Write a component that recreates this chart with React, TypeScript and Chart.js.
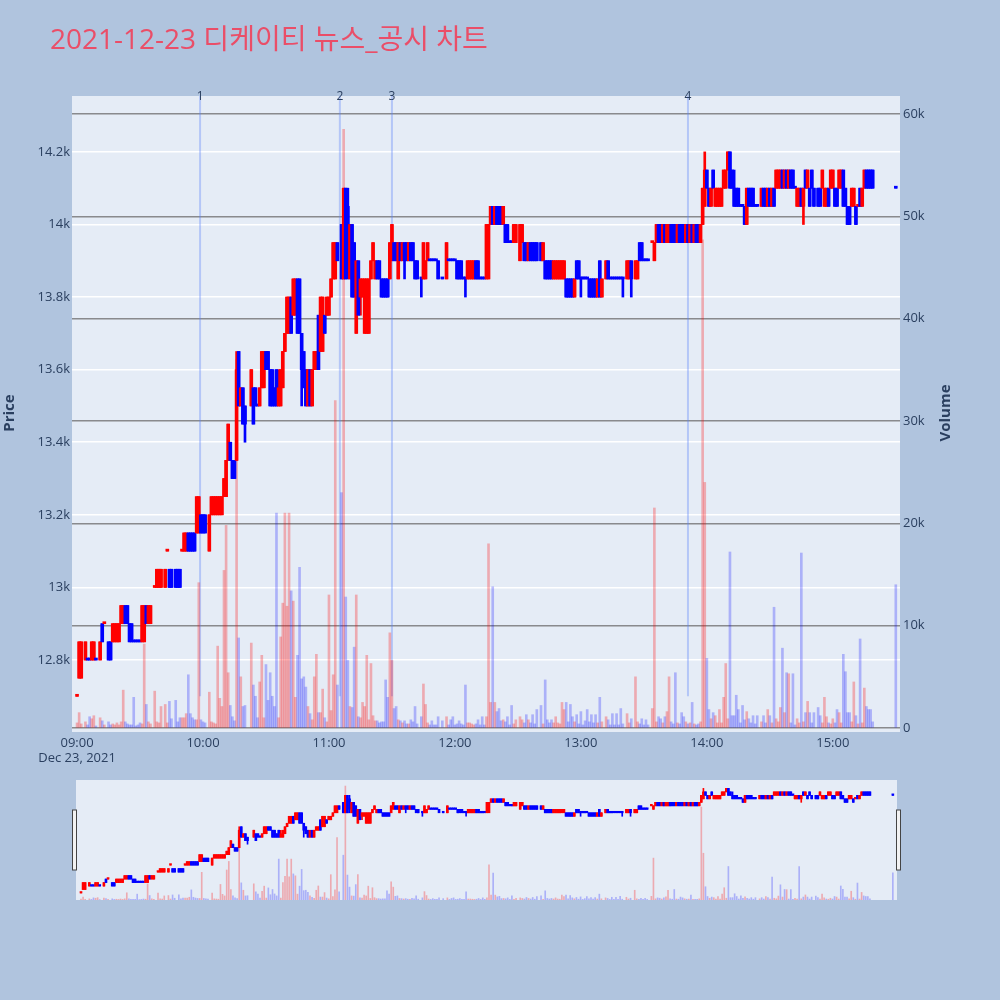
import React, { useEffect, useRef } from "react";
import { Chart, registerables } from "chart.js";

Chart.register(...registerables);

const TITLE = "2021-12-23 디케이티 뉴스_공시 차트";
const DATE_LABEL = "Dec 23, 2021";
const PRICE_TITLE = "Price";
const VOLUME_TITLE = "Volume";
const HOUR_TICKS = [0, 60, 120, 180, 240, 300, 360];
const PRICE_TICKS = [12800, 13000, 13200, 13400, 13600, 13800, 14000, 14200];
const VOLUME_TICKS = [0, 10000, 20000, 30000, 40000, 50000, 60000];
const NEWS_TIMES = [58.6, 125.2, 150, 291];
const NEWS_LABELS = ["1", "2", "3", "4"];
const NEWS_LINE_FLOOR = 12700;

// candles: [minutes after 09:00, open, high, low, close, volume]
const C0900 = [
  [0, 12700, 12700, 12700, 12700, 500], [1, 12750, 12850, 12750, 12850, 1500], [2, 12750, 12850, 12750, 12850, 400],
  [4, 12800, 12850, 12800, 12850, 600], [5, 12800, 12800, 12800, 12800, 300], [6, 12800, 12800, 12800, 12800, 1100],
  [7, 12800, 12850, 12800, 12850, 900], [8, 12800, 12850, 12800, 12850, 1200], [9, 12800, 12800, 12800, 12800, 200],
  [11, 12800, 12850, 12800, 12850, 1000], [12, 12900, 12900, 12850, 12850, 700], [13, 12900, 12900, 12900, 12900, 300],
  [15, 12850, 12850, 12800, 12800, 600], [16, 12850, 12850, 12800, 12800, 300], [17, 12850, 12900, 12850, 12900, 400],
  [18, 12850, 12900, 12850, 12900, 300], [19, 12850, 12900, 12850, 12900, 500], [20, 12850, 12900, 12850, 12900, 300],
  [21, 12900, 12950, 12900, 12950, 600], [22, 12900, 12950, 12900, 12950, 3700], [23, 12950, 12950, 12900, 12900, 600],
  [24, 12950, 12950, 12900, 12900, 400], [25, 12900, 12900, 12850, 12850, 300], [26, 12900, 12900, 12850, 12850, 300],
  [27, 12850, 12850, 12850, 12850, 3000], [28, 12850, 12850, 12850, 12850, 200], [29, 12850, 12850, 12850, 12850, 300],
  [30, 12850, 12850, 12850, 12850, 500], [31, 12850, 12950, 12850, 12950, 400], [32, 12850, 12950, 12850, 12950, 8200],
  [33, 12950, 12950, 12900, 12900, 2300], [34, 12900, 12950, 12900, 12950, 600], [35, 12900, 12950, 12900, 12950, 400],
  [37, 13000, 13000, 13000, 13000, 3600], [38, 13000, 13050, 13000, 13050, 600], [39, 13000, 13050, 13000, 13050, 500],
  [40, 13000, 13050, 13000, 13050, 2100], [42, 13000, 13050, 13000, 13050, 2300], [43, 13100, 13100, 13100, 13100, 500],
  [44, 13050, 13050, 13000, 13000, 2600], [45, 13050, 13050, 13000, 13000, 900], [47, 13050, 13050, 13000, 13000, 2700],
  [48, 13050, 13050, 13000, 13000, 600], [49, 13050, 13050, 13000, 13000, 1000], [50, 13100, 13100, 13100, 13100, 1000],
  [51, 13100, 13150, 13100, 13150, 1000], [52, 13100, 13150, 13100, 13150, 1400], [53, 13150, 13150, 13100, 13100, 5200],
  [54, 13150, 13150, 13100, 13100, 1400], [55, 13150, 13150, 13100, 13100, 1000], [56, 13150, 13150, 13100, 13100, 800],
  [57, 13150, 13250, 13150, 13250, 800], [58, 13150, 13250, 13150, 13250, 14200], [59, 13200, 13200, 13150, 13150, 800],
];

const C1000 = [
  [60, 13200, 13200, 13150, 13150, 600], [61, 13200, 13200, 13150, 13150, 500], [63, 13100, 13200, 13100, 13200, 3500],
  [64, 13200, 13250, 13200, 13250, 600], [65, 13200, 13250, 13200, 13250, 500], [66, 13200, 13250, 13200, 13250, 400],
  [67, 13200, 13250, 13200, 13250, 8000], [68, 13200, 13250, 13200, 13250, 2900], [69, 13200, 13250, 13200, 13250, 2100],
  [70, 13250, 13300, 13250, 13300, 15400], [71, 13250, 13350, 13250, 13350, 19800], [72, 13350, 13450, 13350, 13450, 5400],
  [73, 13400, 13400, 13350, 13350, 2200], [74, 13350, 13350, 13300, 13300, 1100], [75, 13350, 13350, 13300, 13300, 700],
  [76, 13350, 13650, 13350, 13600, 36000], [77, 13650, 13650, 13500, 13500, 8800], [78, 13500, 13550, 13500, 13550, 5000],
  [79, 13550, 13550, 13450, 13450, 2100], [80, 13500, 13500, 13400, 13450, 2200], [83, 13500, 13600, 13500, 13600, 8300],
  [84, 13550, 13550, 13450, 13450, 4200], [85, 13550, 13550, 13500, 13500, 3100], [86, 13500, 13500, 13500, 13500, 1000],
  [87, 13500, 13550, 13500, 13550, 4500], [88, 13550, 13650, 13550, 13650, 7100], [89, 13550, 13650, 13550, 13650, 1000],
  [90, 13650, 13650, 13600, 13600, 6200], [91, 13650, 13650, 13600, 13600, 2700], [92, 13600, 13600, 13500, 13500, 5400],
  [93, 13600, 13600, 13500, 13500, 3100], [94, 13550, 13550, 13500, 13500, 2100], [95, 13600, 13600, 13500, 13500, 21000],
  [96, 13500, 13600, 13500, 13550, 1000], [97, 13500, 13600, 13500, 13600, 8900], [98, 13550, 13650, 13550, 13650, 12200],
  [99, 13650, 13700, 13650, 13700, 21000], [100, 13700, 13800, 13700, 13800, 11900], [101, 13700, 13800, 13700, 13800, 21000],
  [102, 13800, 13800, 13700, 13700, 13400], [103, 13750, 13850, 13750, 13850, 12400], [104, 13750, 13850, 13750, 13850, 3000],
  [105, 13850, 13850, 13700, 13700, 7100], [106, 13850, 13850, 13700, 13700, 15700], [107, 13700, 13700, 13500, 13600, 4800],
  [108, 13650, 13650, 13550, 13550, 5000], [109, 13600, 13600, 13500, 13500, 4000], [110, 13500, 13600, 13500, 13600, 2100],
  [111, 13600, 13600, 13500, 13500, 1400], [112, 13500, 13600, 13500, 13600, 800], [113, 13600, 13650, 13600, 13650, 5000],
  [114, 13600, 13650, 13600, 13650, 7200], [115, 13750, 13750, 13600, 13600, 1500], [116, 13650, 13800, 13650, 13800, 1500],
  [117, 13650, 13800, 13650, 13800, 3800], [118, 13750, 13750, 13700, 13700, 1000], [119, 13750, 13800, 13750, 13800, 600],
];

const C1100 = [
  [120, 13750, 13800, 13750, 13800, 13000], [121, 13800, 13850, 13800, 13850, 1700], [122, 13850, 13950, 13850, 13950, 5200],
  [123, 13850, 13950, 13850, 13950, 32000], [124, 13950, 13950, 13900, 13900, 4200], [126, 14000, 14000, 13850, 13850, 23000],
  [127, 13850, 14100, 13850, 14100, 58500], [128, 14100, 14100, 13850, 13850, 12800], [129, 14050, 14100, 13850, 13900, 6600],
  [130, 13850, 14000, 13850, 14000, 2100], [131, 14000, 14000, 13800, 13800, 2000], [132, 13950, 13950, 13800, 13800, 7900],
  [133, 13700, 13900, 13700, 13900, 13000], [134, 13900, 13900, 13750, 13750, 1100], [135, 13800, 13850, 13750, 13850, 1000],
  [136, 13800, 13850, 13800, 13850, 2500], [137, 13700, 13850, 13700, 13850, 2100], [138, 13700, 13850, 13700, 13850, 7100],
  [139, 13700, 13850, 13700, 13850, 800], [140, 13850, 13900, 13850, 13900, 6300], [141, 13900, 13950, 13900, 13950, 1200],
  [142, 13850, 13900, 13850, 13900, 700], [143, 13900, 13900, 13850, 13850, 700], [144, 13900, 13900, 13850, 13850, 500],
  [145, 13850, 13850, 13800, 13800, 600], [146, 13850, 13850, 13800, 13800, 600], [147, 13850, 13850, 13800, 13800, 4700],
  [148, 13850, 13850, 13800, 13800, 3000], [149, 13850, 13950, 13850, 13950, 9300], [150, 13900, 14000, 13900, 14000, 6600],
  [151, 13950, 13950, 13900, 13900, 1900], [152, 13950, 13950, 13900, 13900, 2100], [153, 13850, 13950, 13850, 13950, 800],
  [154, 13950, 13950, 13900, 13900, 700], [155, 13900, 13950, 13900, 13950, 500], [156, 13950, 13950, 13850, 13900, 700],
  [157, 13950, 13950, 13900, 13900, 400], [158, 13900, 13950, 13900, 13950, 400], [159, 13950, 13950, 13900, 13900, 800],
  [160, 13950, 13950, 13900, 13900, 600], [161, 13900, 13900, 13850, 13850, 2100], [162, 13900, 13900, 13850, 13850, 400],
  [164, 13850, 13850, 13800, 13850, 1100], [165, 13850, 13950, 13850, 13950, 4300], [166, 13850, 13900, 13850, 13900, 2300],
  [167, 13900, 13950, 13900, 13950, 500], [168, 13900, 13900, 13900, 13900, 300], [169, 13900, 13900, 13900, 13900, 700],
  [170, 13900, 13900, 13900, 13900, 300], [171, 13900, 13900, 13900, 13900, 300], [172, 13900, 13900, 13850, 13850, 1100],
  [174, 13850, 13850, 13850, 13850, 700], [176, 13850, 13950, 13850, 13950, 1100], [177, 13900, 13900, 13900, 13900, 300],
  [178, 13900, 13900, 13900, 13900, 800], [179, 13900, 13900, 13900, 13900, 1100],
];

const C1200 = [
  [180, 13900, 13900, 13900, 13900, 300], [181, 13900, 13900, 13850, 13850, 400], [182, 13900, 13900, 13850, 13850, 700],
  [183, 13900, 13900, 13850, 13850, 400], [184, 13850, 13850, 13850, 13850, 300], [185, 13850, 13850, 13800, 13850, 4200],
  [186, 13850, 13900, 13850, 13900, 500], [187, 13850, 13900, 13850, 13900, 500], [188, 13850, 13900, 13850, 13900, 400],
  [189, 13850, 13900, 13850, 13900, 300], [190, 13900, 13900, 13850, 13850, 400], [191, 13900, 13900, 13850, 13850, 800],
  [192, 13850, 13850, 13850, 13850, 300], [193, 13850, 13850, 13850, 13850, 1100], [194, 13850, 13850, 13850, 13850, 300],
  [195, 13850, 14000, 13850, 14000, 1100], [196, 13850, 14000, 13850, 14000, 18000], [197, 14000, 14050, 14000, 14050, 2500],
  [198, 14050, 14050, 14000, 14000, 13800], [199, 14000, 14050, 14000, 14050, 2500], [200, 14050, 14050, 14000, 14000, 1600],
  [201, 14050, 14050, 14000, 14000, 1900], [202, 14050, 14050, 14000, 14000, 700], [203, 14000, 14050, 14000, 14050, 800],
  [204, 14000, 14000, 13950, 13950, 600], [205, 14000, 14000, 13950, 13950, 1100], [206, 13950, 13950, 13950, 13950, 300],
  [207, 13950, 13950, 13950, 13950, 2200], [208, 13950, 14000, 13950, 14000, 400], [209, 13950, 14000, 13950, 14000, 800],
  [211, 13900, 14000, 13900, 14000, 1100], [212, 13950, 14000, 13950, 14000, 800], [213, 13950, 13950, 13900, 13900, 500],
  [214, 13950, 13950, 13900, 13900, 1300], [215, 13900, 13950, 13900, 13950, 800], [216, 13950, 13950, 13900, 13900, 500],
  [217, 13950, 13950, 13900, 13900, 1300], [218, 13950, 13950, 13900, 13900, 400], [219, 13950, 13950, 13900, 13900, 1800],
  [221, 13950, 13950, 13900, 13900, 2200], [222, 13900, 13950, 13900, 13950, 400], [223, 13900, 13900, 13850, 13850, 4700],
  [224, 13900, 13900, 13850, 13850, 800], [225, 13900, 13900, 13850, 13850, 500], [226, 13900, 13900, 13850, 13850, 800],
  [227, 13850, 13900, 13850, 13900, 500], [228, 13850, 13900, 13850, 13900, 1100], [229, 13850, 13900, 13850, 13900, 500],
  [230, 13850, 13900, 13850, 13900, 400], [231, 13850, 13900, 13850, 13900, 2500], [232, 13850, 13900, 13850, 13900, 1800],
  [233, 13850, 13850, 13800, 13800, 2500], [234, 13850, 13850, 13800, 13800, 600], [235, 13850, 13850, 13800, 13800, 2300],
  [236, 13850, 13850, 13800, 13800, 1100], [237, 13800, 13850, 13800, 13850, 600], [238, 13900, 13900, 13850, 13850, 1300],
  [239, 13900, 13900, 13850, 13850, 400],
];

const C1300 = [
  [240, 13850, 13850, 13800, 13850, 1600], [241, 13850, 13850, 13850, 13850, 300], [242, 13850, 13850, 13850, 13850, 700],
  [243, 13850, 13850, 13850, 13850, 1800], [244, 13850, 13850, 13800, 13800, 600], [245, 13850, 13850, 13800, 13800, 1300],
  [246, 13850, 13850, 13800, 13800, 500], [247, 13850, 13850, 13800, 13800, 1300], [248, 13800, 13850, 13800, 13850, 500],
  [249, 13900, 13900, 13800, 13800, 3000], [250, 13800, 13850, 13800, 13850, 600], [252, 13850, 13900, 13850, 13900, 1100],
  [253, 13900, 13900, 13850, 13850, 800], [254, 13850, 13850, 13850, 13850, 300], [255, 13850, 13850, 13850, 13850, 1400],
  [256, 13850, 13850, 13850, 13850, 300], [257, 13850, 13850, 13850, 13850, 1400], [258, 13850, 13850, 13850, 13850, 300],
  [259, 13850, 13850, 13850, 13850, 1900], [260, 13850, 13850, 13800, 13850, 400], [262, 13850, 13900, 13850, 13900, 1400],
  [263, 13850, 13900, 13850, 13900, 500], [264, 13900, 13900, 13800, 13850, 900], [266, 13850, 13900, 13850, 13900, 5000],
  [267, 13850, 13900, 13850, 13900, 600], [268, 13950, 13950, 13900, 13900, 400], [269, 13950, 13950, 13900, 13900, 900],
  [270, 13900, 13900, 13900, 13900, 300], [271, 13900, 13900, 13900, 13900, 800], [272, 13900, 13900, 13900, 13900, 300],
  [274, 13950, 13950, 13950, 13950, 1900], [275, 13900, 13950, 13900, 13950, 21500], [276, 13950, 14000, 13950, 14000, 600],
  [277, 14000, 14000, 13950, 13950, 1100], [278, 14000, 14000, 13950, 13950, 900], [279, 13950, 14000, 13950, 14000, 500],
  [280, 14000, 14000, 13950, 13950, 1100], [281, 13950, 14000, 13950, 14000, 1600], [282, 13950, 14000, 13950, 14000, 5000],
  [283, 14000, 14000, 13950, 13950, 600], [284, 14000, 14000, 13950, 13950, 400], [285, 14000, 14000, 13950, 13950, 5400],
  [286, 13950, 14000, 13950, 14000, 500], [287, 14000, 14000, 13950, 13950, 400], [288, 14000, 14000, 13950, 13950, 1500],
  [289, 14000, 14000, 13950, 13950, 1100], [290, 13950, 14000, 13950, 14000, 600], [291, 14000, 14000, 13950, 13950, 400],
  [292, 13950, 14000, 13950, 14000, 500], [293, 14000, 14000, 13950, 13950, 2500], [294, 13950, 14000, 13950, 14000, 400],
  [295, 14000, 14000, 13950, 13950, 300], [296, 14000, 14000, 13950, 13950, 400], [297, 13950, 14000, 13950, 14000, 600],
  [298, 14000, 14100, 14000, 14100, 47700], [299, 14050, 14200, 14050, 14150, 24000],
];

const C1400 = [
  [300, 14150, 14150, 14100, 14100, 6800], [301, 14100, 14100, 14050, 14050, 1800], [302, 14050, 14100, 14050, 14100, 900],
  [303, 14150, 14150, 14100, 14100, 1500], [304, 14050, 14100, 14050, 14100, 1200], [305, 14050, 14100, 14050, 14100, 500],
  [306, 14050, 14100, 14050, 14100, 1800], [307, 14050, 14100, 14050, 14100, 500], [308, 14100, 14150, 14100, 14150, 3000],
  [309, 14100, 14150, 14100, 14150, 6300], [310, 14150, 14200, 14150, 14200, 900], [311, 14200, 14200, 14100, 14100, 17200],
  [312, 14150, 14150, 14100, 14100, 1200], [313, 14100, 14150, 14050, 14050, 1200], [314, 14100, 14100, 14050, 14050, 3200],
  [315, 14100, 14100, 14050, 14050, 1800], [316, 14050, 14050, 14050, 14050, 500], [317, 14050, 14050, 14050, 14050, 2200],
  [318, 14050, 14050, 14000, 14000, 800], [319, 14000, 14100, 14000, 14100, 1600], [320, 14100, 14100, 14050, 14050, 900],
  [321, 14100, 14100, 14050, 14050, 500], [322, 14100, 14100, 14050, 14050, 1200], [323, 14050, 14050, 14050, 14050, 400],
  [324, 14050, 14050, 14050, 14050, 1200], [326, 14050, 14100, 14050, 14100, 600], [327, 14100, 14100, 14050, 14050, 1200],
  [328, 14100, 14100, 14050, 14050, 500], [329, 14050, 14100, 14050, 14100, 1800], [330, 14100, 14100, 14050, 14050, 1200],
  [331, 14050, 14100, 14050, 14100, 500], [332, 14100, 14100, 14050, 14050, 11800], [333, 14100, 14150, 14100, 14150, 900],
  [334, 14100, 14150, 14100, 14150, 600], [335, 14100, 14150, 14100, 14150, 2000], [336, 14150, 14150, 14100, 14100, 7800],
  [337, 14100, 14150, 14100, 14150, 1500], [338, 14150, 14150, 14100, 14100, 5400], [339, 14100, 14150, 14100, 14150, 5300],
  [340, 14150, 14150, 14100, 14100, 500], [341, 14150, 14150, 14100, 14100, 5300], [342, 14100, 14100, 14100, 14100, 300],
  [343, 14050, 14100, 14050, 14100, 900], [344, 14050, 14100, 14050, 14100, 500], [345, 14100, 14100, 14050, 14050, 17100],
  [346, 14050, 14100, 14000, 14100, 600], [347, 14150, 14150, 14100, 14100, 1500], [348, 14100, 14150, 14100, 14150, 2600],
  [349, 14100, 14100, 14050, 14050, 1500], [350, 14150, 14150, 14100, 14100, 500], [351, 14100, 14100, 14050, 14050, 1500],
  [353, 14100, 14100, 14050, 14050, 2000], [354, 14100, 14100, 14050, 14050, 1200], [355, 14100, 14150, 14100, 14150, 500],
  [356, 14050, 14100, 14050, 14100, 3000], [357, 14050, 14100, 14050, 14100, 1100], [358, 14100, 14100, 14050, 14050, 500],
  [359, 14100, 14150, 14100, 14150, 400],
];

const C1500 = [
  [360, 14100, 14150, 14100, 14150, 900], [361, 14100, 14100, 14050, 14050, 500], [362, 14100, 14100, 14050, 14050, 1800],
  [363, 14100, 14150, 14100, 14150, 1500], [364, 14100, 14150, 14100, 14150, 500], [365, 14150, 14150, 14050, 14050, 7200],
  [366, 14100, 14100, 14050, 14050, 5500], [367, 14050, 14050, 14000, 14000, 1500], [368, 14050, 14050, 14000, 14000, 1500],
  [369, 14050, 14100, 14050, 14100, 600], [370, 14050, 14100, 14050, 14100, 4500], [371, 14050, 14050, 14000, 14000, 1200],
  [372, 14050, 14050, 14050, 14050, 400], [373, 14100, 14100, 14050, 14050, 8700], [374, 14050, 14100, 14050, 14100, 500],
  [375, 14100, 14150, 14100, 14150, 3900], [376, 14150, 14150, 14100, 14100, 2100], [377, 14150, 14150, 14100, 14100, 1800],
  [378, 14150, 14150, 14100, 14100, 1800], [379, 14150, 14150, 14100, 14100, 600], [390, 14100, 14100, 14100, 14100, 14000],
];

const CANDLES = [...C0900, ...C1000, ...C1100, ...C1200, ...C1300, ...C1400, ...C1500];

const X_MIN = -2.4;
const X_MAX = 392;
const PRICE_MIN = 12601.6;
const PRICE_MAX = 14354;
const VOL_MIN = -391;
const VOL_MAX = 61759;

const PAGE_BG = "#b0c4de";
const PLOT_BG = "#e5ecf6";
const TEXT = "#2a3f5f";
const FONT = '"Open Sans", "Noto Sans CJK KR", sans-serif';
const UP = "#ff0000";
const DOWN = "#0000ff";
const UP_VOL = "rgba(255,0,0,0.28)";
const DOWN_VOL = "rgba(0,0,255,0.25)";

function directions() {
  let prev = -Infinity;
  return CANDLES.map((k) => {
    const o = k[1];
    const c = k[4];
    const up = c > o ? true : c < o ? false : c > prev;
    prev = c;
    return up;
  });
}

function buildDatasets(bodyW: number, wickW: number, volW: number, minLen: number) {
  const dirs = directions();
  const colors = dirs.map((u) => (u ? UP : DOWN));
  const volColors = dirs.map((u) => (u ? UP_VOL : DOWN_VOL));
  return [
    {
      type: "bar",
      label: "body",
      data: CANDLES.map((k) => ({ x: k[0], y: [k[1], k[4]] })),
      backgroundColor: colors,
      barThickness: bodyW,
      minBarLength: minLen,
      grouped: false,
      yAxisID: "y",
      order: 0,
    },
    {
      type: "bar",
      label: "wick",
      data: CANDLES.map((k) => ({ x: k[0], y: [k[3], k[2]] })),
      backgroundColor: colors,
      barThickness: wickW,
      grouped: false,
      yAxisID: "y",
      order: 1,
    },
    {
      type: "bar",
      label: "volume",
      data: CANDLES.map((k) => ({ x: k[0], y: k[5] })),
      backgroundColor: volColors,
      barThickness: volW,
      grouped: false,
      yAxisID: "y1",
      order: 2,
    },
  ];
}

function hourLabel(v: number) {
  const h = 9 + Math.round(v / 60);
  return (h < 10 ? "0" + h : String(h)) + ":00";
}

export default function App() {
  const mainRef = useRef<HTMLCanvasElement>(null);
  const sliderRef = useRef<HTMLCanvasElement>(null);

  useEffect(() => {
    document.body.style.margin = "0";
    document.body.style.background = PAGE_BG;

    const mainPlugin = {
      id: "mainDecor",
      beforeDraw(chart: any) {
        const { ctx, chartArea: a } = chart;
        ctx.save();
        ctx.fillStyle = PLOT_BG;
        ctx.fillRect(a.left, a.top, a.right - a.left, a.bottom - a.top);
        ctx.restore();
      },
      beforeDatasetsDraw(chart: any) {
        const { ctx, chartArea: a, scales } = chart;
        const yb = scales.y.getPixelForValue(NEWS_LINE_FLOOR);
        ctx.save();
        ctx.strokeStyle = "rgba(90,130,250,0.35)";
        ctx.lineWidth = 2;
        NEWS_TIMES.forEach((t) => {
          const x = scales.x.getPixelForValue(t);
          ctx.beginPath();
          ctx.moveTo(x, a.top);
          ctx.lineTo(x, yb);
          ctx.stroke();
        });
        ctx.restore();
      },
      afterDraw(chart: any) {
        const { ctx, chartArea: a, scales } = chart;
        ctx.save();
        ctx.fillStyle = "#ea4e68";
        ctx.font = `28px ${FONT}`;
        ctx.textAlign = "left";
        ctx.textBaseline = "middle";
        ctx.fillText(TITLE, 50, 41);

        ctx.fillStyle = TEXT;
        ctx.font = `12px ${FONT}`;
        ctx.textAlign = "center";
        NEWS_TIMES.forEach((t, i) => {
          ctx.fillText(NEWS_LABELS[i], scales.x.getPixelForValue(t), a.top + 1);
        });

        ctx.font = `bold 15px ${FONT}`;
        ctx.save();
        ctx.translate(10, 413);
        ctx.rotate(-Math.PI / 2);
        ctx.fillText(PRICE_TITLE, 0, 0);
        ctx.restore();
        ctx.save();
        ctx.translate(946, 413);
        ctx.rotate(-Math.PI / 2);
        ctx.fillText(VOLUME_TITLE, 0, 0);
        ctx.restore();
        ctx.restore();
      },
    };

    const main = new Chart(mainRef.current as HTMLCanvasElement, {
      type: "bar",
      data: { datasets: buildDatasets(3, 2, 2, 2) as any },
      options: {
        responsive: false,
        animation: false,
        devicePixelRatio: 1,
        layout: { padding: { top: 96, left: 0, right: 0, bottom: 0 } },
        plugins: { legend: { display: false }, tooltip: { enabled: false }, title: { display: false } },
        scales: {
          x: {
            type: "linear",
            min: X_MIN,
            max: X_MAX,
            offset: false,
            grid: { display: false, drawTicks: false, offset: false },
            border: { display: false },
            afterBuildTicks: (s: any) => {
              s.ticks = HOUR_TICKS.map((v) => ({ value: v }));
            },
            afterFit: (s: any) => {
              s.height = 48;
            },
            ticks: {
              autoSkip: false,
              maxRotation: 0,
              padding: 3,
              color: TEXT,
              font: { family: FONT, size: 13 },
              callback: (v: any) => (v === 0 ? [hourLabel(v), DATE_LABEL] : hourLabel(v)),
            },
          },
          y: {
            type: "linear",
            position: "left",
            min: PRICE_MIN,
            max: PRICE_MAX,
            grid: { color: "#ffffff", lineWidth: 1.5, drawTicks: false },
            border: { display: false },
            afterBuildTicks: (s: any) => {
              s.ticks = PRICE_TICKS.map((v) => ({ value: v }));
            },
            afterFit: (s: any) => {
              s.width = 72;
            },
            ticks: {
              padding: 2,
              color: TEXT,
              font: { family: FONT, size: 13 },
              callback: (v: any) => `${Math.round(v / 100) / 10}k`,
            },
          },
          y1: {
            type: "linear",
            position: "right",
            min: VOL_MIN,
            max: VOL_MAX,
            grid: { color: "rgba(105,105,105,0.75)", lineWidth: 1.5, drawTicks: false },
            border: { display: false },
            afterBuildTicks: (s: any) => {
              s.ticks = VOLUME_TICKS.map((v) => ({ value: v }));
            },
            afterFit: (s: any) => {
              s.width = 100;
            },
            ticks: {
              padding: 3,
              color: TEXT,
              font: { family: FONT, size: 13 },
              callback: (v: any) => (v === 0 ? "0" : `${v / 1000}k`),
            },
          },
        },
      } as any,
      plugins: [mainPlugin],
    });

    const sliderPlugin = {
      id: "sliderDecor",
      beforeDraw(chart: any) {
        const { ctx, chartArea: a } = chart;
        ctx.save();
        ctx.fillStyle = PLOT_BG;
        ctx.fillRect(a.left, a.top, a.right - a.left, a.bottom - a.top);
        ctx.restore();
      },
      afterDraw(chart: any) {
        const { ctx, chartArea: a } = chart;
        ctx.save();
        ctx.fillStyle = "#f2f2f2";
        ctx.strokeStyle = "#444444";
        ctx.lineWidth = 1;
        const hy = a.top + 30;
        const hh = 60;
        ctx.fillRect(a.left - 3.5, hy, 4, hh);
        ctx.strokeRect(a.left - 3.5, hy, 4, hh);
        ctx.fillRect(a.right - 0.5, hy, 4, hh);
        ctx.strokeRect(a.right - 0.5, hy, 4, hh);
        ctx.restore();
      },
    };

    const slider = new Chart(sliderRef.current as HTMLCanvasElement, {
      type: "bar",
      data: { datasets: buildDatasets(2, 1, 1, 1.5) as any },
      options: {
        responsive: false,
        animation: false,
        devicePixelRatio: 1,
        layout: { padding: { top: 10, left: 76, right: 103, bottom: 10 } },
        plugins: { legend: { display: false }, tooltip: { enabled: false } },
        scales: {
          x: { type: "linear", min: X_MIN, max: X_MAX, offset: false, display: false },
          y: { type: "linear", min: 12600, max: 14320, display: false },
          y1: { type: "linear", min: 0, max: 61600, display: false },
        },
      } as any,
      plugins: [sliderPlugin],
    });

    return () => {
      main.destroy();
      slider.destroy();
    };
  }, []);

  return (
    <div style={{ position: "absolute", left: 0, top: 0, width: 1000, height: 1000, background: PAGE_BG }}>
      <canvas
        ref={mainRef}
        width={1000}
        height={780}
        style={{ position: "absolute", left: 0, top: 0, width: 1000, height: 780 }}
      />
      <canvas
        ref={sliderRef}
        width={1000}
        height={140}
        style={{ position: "absolute", left: 0, top: 770, width: 1000, height: 140 }}
      />
    </div>
  );
}
